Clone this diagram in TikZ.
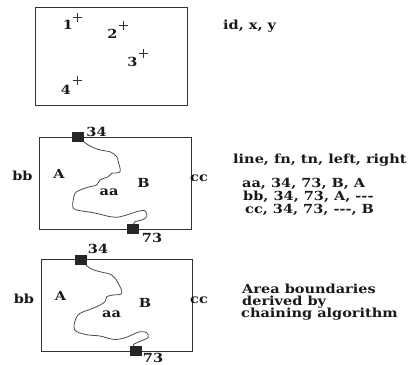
\documentclass[tikz,border=0pt]{standalone}
\usepackage{fontspec}
\setmainfont{DejaVu Serif}[BoldFont=DejaVu Serif Bold,BoldFeatures={FakeStretch=1.16}]
\usetikzlibrary{calc}
\begin{document}
\begin{tikzpicture}[x=1pt,y=-1pt,
  lbl/.style={inner sep=0pt,font=\fontsize{12.5}{12.5}\selectfont\bfseries,text=black!90},
  info/.style={lbl,anchor=base west},
  frame/.style={draw=black!80,line width=0.9pt},
  pt/.style={draw=black!80,line width=0.5pt},
  chain/.style={draw=black!70,line width=0.8pt},
  endpt/.style={fill=black!85,minimum width=12pt,minimum height=10pt,inner sep=0pt}]
\useasboundingbox (0,0) rectangle (411,364);

% --- points layer
\draw[frame] (35,7) rectangle (187,105);
\foreach \n/\lx/\ly/\px/\py in {1/68/29/77/17, 2/112.5/38/123/25, 3/132.5/66/143/53, 4/66/94/77/80}{
  \node[lbl,anchor=base] (p\n) at (\lx,\ly) {\n};
  \coordinate (m\n) at (\px,\py);
  \draw[pt] ($(m\n)+(-4.5,0)$) -- ($(m\n)+(4.5,0)$) ($(m\n)+(0,-4.5)$) -- ($(m\n)+(0,4.5)$);
}
\node[info] (hdr1) at (223,29) {id, x, y};

% --- line layer
\draw[frame] (39,137) rectangle (191,229);
\coordinate (s1) at (78,137);
\coordinate (e1) at (133,229);
\draw[chain] plot[smooth,tension=0.6] coordinates {(s1) (88.3,145) (100,150) (110,151.7) (116.7,156.7)
  (118.3,161.7) (120,171.7) (111.7,173.3) (108.3,176.7) (100,180) (96.7,185) (90,186.7) (80,190)
  (75,193.3) (73.3,200) (72.7,206.7) (76.7,210) (93.3,212.7) (110,216.7) (116.7,217.3) (126.7,215)
  (136.7,211.7) (145,210.7) (146.7,216.7) (141.7,220) (135,221.7) (132.7,225) (e1)};
\node[endpt] (n34a) at (s1) {};
\node[endpt] (n73a) at (e1) {};
\node[lbl,anchor=base] (t34a) at (96.5,136) {34};
\node[lbl,anchor=base] (t73a) at (152,242) {73};
\node[lbl,anchor=base] (bba) at (22.5,180) {bb};
\node[lbl,anchor=base] (Aa) at (59,178) {A};
\node[lbl,anchor=base] (Ba) at (143.5,187) {B};
\node[lbl,anchor=base] (aaa) at (109,195) {aa};
\node[lbl,anchor=base] (cca) at (199,181) {cc};
\node[info] (hdr2) at (233,163) {line, fn, tn, left, right};
\node[info] (r1) at (242,187.5) {aa, 34, 73, B, A};
\node[info] (r2) at (243,200) {bb, 34, 73, A, -{}-{}-};
\node[info] (r3) at (245,213) {cc, 34, 73, -{}-{}-, B};

% --- area layer
\draw[frame] (41,259) rectangle (192,351);
\coordinate (s2) at (80.5,259.5);
\coordinate (e2) at (136,351);
\draw[chain] plot[smooth,tension=0.6] coordinates {(s2) (90,268.3) (100,271.7) (111.7,275) (118.3,283.3)
  (121.7,293.3) (113.3,295) (106.7,296.7) (105,301.7) (96.7,306.7) (88.3,310) (80,313.3) (76,318.3)
  (74,326.7) (76.7,331.7) (88.3,335) (100,336) (113.3,339.3) (123.3,338.3) (131.7,335) (140,331.7)
  (146.7,332.7) (148.3,337.3) (143.3,340) (136.7,342.7) (133.3,345) (135,348.3) (e2)};
\node[endpt] (n34b) at (s2) {};
\node[endpt] (n73b) at (e2) {};
\node[lbl,anchor=base] (t34b) at (98,253.5) {34};
\node[lbl,anchor=base] (t73b) at (153,362) {73};
\node[lbl,anchor=base] (bbb) at (24,303) {bb};
\node[lbl,anchor=base] (Ab) at (60.5,300) {A};
\node[lbl,anchor=base] (Bb) at (145,307) {B};
\node[lbl,anchor=base] (aab) at (111.5,317) {aa};
\node[lbl,anchor=base] (ccb) at (199,303) {cc};
\node[info] (d1) at (242,293) {Area boundaries};
\node[info] (d2) at (242,305) {derived by};
\node[info] (d3) at (241,317) {chaining algorithm};
\end{tikzpicture}
\end{document}
